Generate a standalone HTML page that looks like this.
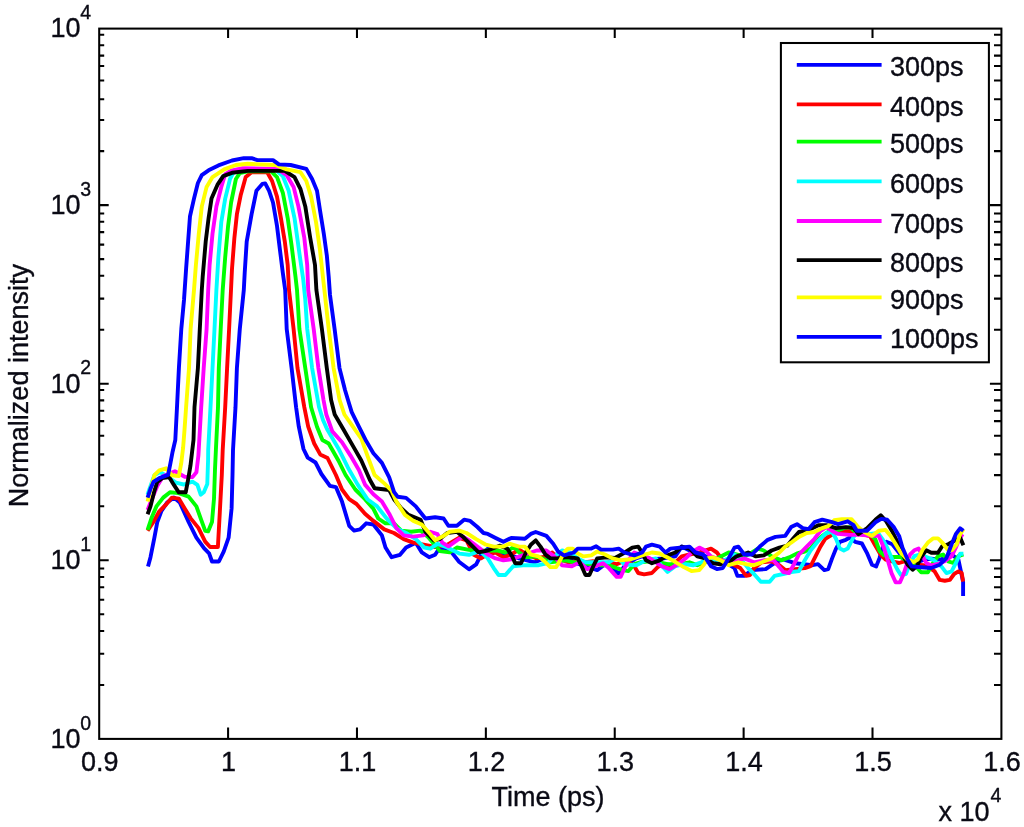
<!DOCTYPE html>
<html lang="en"><head><meta charset="utf-8"><title>Normalized intensity vs Time</title>
<style>html,body{margin:0;padding:0;background:#fff}body{width:1024px;height:827px;overflow:hidden}svg{display:block}text{font-family:"Liberation Sans",Arial,Helvetica,sans-serif;fill:#0a0a14;stroke:#0a0a14;stroke-width:0.35px}</style>
</head><body>
<svg width="1024" height="827" viewBox="0 0 1024 827">
<rect x="0" y="0" width="1024" height="827" fill="#ffffff"/>
<g fill="none" stroke-width="3.90" stroke-linejoin="round" stroke-linecap="butt">
<polyline stroke="#0000ff" points="148.0,566.6 150.5,557.2 154.4,537.7 157.3,522.0 161.3,511.3 167.1,502.5 173.9,497.6 179.8,502.5 188.6,522.0 196.4,537.7 204.2,548.4 209.1,553.3 212.0,561.5 218.9,561.5 223.8,551.3 228.6,537.7 231.6,508.4 232.5,475.2 233.0,450.0 235.5,407.2 236.9,368.1 239.8,329.0 243.8,290.0 244.7,272.8 246.7,241.6 251.6,214.2 256.4,190.8 262.3,183.9 265.2,183.4 269.1,190.8 273.0,202.5 277.0,225.9 279.9,249.4 282.8,272.8 285.2,290.0 286.7,329.0 291.6,368.1 296.1,407.2 298.8,426.7 303.5,449.0 307.7,457.6 315.5,462.5 321.4,474.0 329.9,485.9 335.9,487.1 342.0,501.6 349.2,525.8 354.1,530.6 360.1,529.4 366.2,523.3 373.4,524.5 381.9,535.4 385.5,547.5 391.6,557.2 400.0,554.8 406.1,547.5 415.8,542.7 421.8,552.4 429.1,557.2 435.1,554.8 439.9,547.5 449.6,549.9 459.3,562.0 469.0,569.3 476.2,564.4 481.0,554.8 487.8,548.6 499.5,552.5 509.0,554.5 519.0,558.4 534.7,562.3 544.5,558.4 554.0,554.5 565.9,556.4 573.8,562.3 585.5,566.2 597.2,570.1 605.0,564.2 612.8,568.1 618.7,574.0 624.5,566.2 636.0,558.4 642.1,556.4 651.9,559.3 663.6,558.4 675.3,556.4 681.7,546.6 689.5,550.5 697.0,554.5 705.0,556.0 715.0,560.0 725.0,562.0 734.5,568.1 737.4,575.9 744.2,575.9 752.0,570.1 765.7,569.1 775.5,562.3 783.3,559.3 795.0,563.2 812.6,565.2 818.0,564.2 824.3,570.1 828.2,569.1 832.1,558.4 836.0,548.6 839.9,541.8 845.8,539.8 850.0,537.6 855.1,541.8 861.9,543.5 866.9,552.8 872.0,564.7 876.2,566.4 879.6,557.9 883.0,546.0 886.4,541.8 892.3,544.3 899.1,552.8 906.0,562.0 915.0,563.0 924.5,559.6 931.3,558.7 941.0,559.6 951.6,554.5 958.4,559.6 960.9,571.4 963.1,581.6 963.1,596.0"/>
<polyline stroke="#ff0000" points="147.6,530.8 153.4,522.0 159.3,511.3 166.1,504.5 172.0,497.6 178.8,498.6 184.7,508.4 190.5,518.1 198.4,527.9 205.2,541.6 210.1,547.0 217.9,547.0 219.8,512.3 221.8,475.2 222.7,450.0 225.2,407.2 227.1,368.1 229.1,329.0 231.0,290.0 232.0,268.9 234.4,237.7 236.9,214.2 240.8,194.7 245.7,177.1 251.6,172.2 267.2,172.2 272.1,181.0 277.0,196.6 280.9,218.1 284.8,241.6 287.7,265.0 289.0,290.0 293.6,329.0 297.5,368.1 304.3,407.2 308.2,426.7 314.2,443.5 320.2,454.4 327.5,458.0 335.9,475.0 342.0,489.5 349.2,499.2 356.5,504.0 365.0,513.7 373.4,520.9 384.3,529.4 394.0,533.0 403.7,539.1 413.3,542.7 425.0,545.0 435.0,547.0 447.0,545.0 459.3,537.8 466.5,540.3 473.8,554.8 481.0,558.4 487.0,554.5 495.6,552.5 503.4,557.4 511.0,554.5 519.1,549.6 526.9,554.5 536.6,558.4 546.0,556.4 552.3,552.5 558.0,558.4 567.9,562.3 577.7,561.3 585.5,562.3 593.3,561.3 601.0,564.2 608.9,562.3 616.7,564.2 626.5,560.3 634.3,566.2 638.2,573.0 644.1,574.4 651.9,573.0 657.7,567.1 663.6,564.2 671.4,565.2 676.0,562.0 681.7,556.4 689.5,554.5 699.0,552.5 711.0,548.6 716.9,552.5 722.7,560.3 732.5,564.2 740.3,568.1 746.2,575.9 750.0,575.0 754.0,568.1 761.8,562.3 771.6,561.3 779.4,565.2 785.2,570.1 795.0,569.1 804.8,568.1 810.6,566.2 815.5,556.4 820.4,546.6 825.3,538.8 830.2,535.9 838.0,531.0 845.8,531.0 853.6,532.0 861.4,534.0 870.0,536.0 875.0,545.0 880.5,554.5 885.6,559.6 892.0,561.3 899.1,563.0 904.2,561.3 917.7,564.7 926.2,565.5 934.7,571.4 939.7,579.9 944.8,580.7 949.9,579.9 954.1,574.0 958.4,571.4 961.7,573.1 963.1,581.6"/>
<polyline stroke="#00ff00" points="147.6,529.8 151.5,518.1 156.4,506.4 163.2,497.6 170.0,492.3 178.8,493.1 188.6,496.6 196.4,506.4 201.3,520.1 205.2,530.8 208.1,531.4 212.0,522.0 214.0,498.6 215.0,469.3 215.9,449.8 218.0,407.2 218.8,368.1 220.7,329.0 222.7,290.0 225.2,257.2 228.1,225.9 231.1,202.5 235.9,179.0 239.8,173.2 247.7,171.3 271.1,171.3 277.0,177.1 282.8,192.7 287.7,218.1 291.6,245.5 295.5,276.7 297.0,290.0 299.4,329.0 305.3,368.1 311.1,407.2 317.0,426.7 322.4,440.0 328.7,443.5 338.4,460.5 345.6,475.0 355.3,489.5 365.0,499.2 373.4,508.8 378.3,518.5 385.5,523.3 394.0,523.3 401.2,530.6 410.9,531.8 420.6,530.6 428.0,537.0 435.1,545.1 439.9,551.1 449.6,552.4 456.9,547.5 469.0,549.9 478.6,551.0 487.8,550.5 497.6,550.5 505.4,552.5 514.2,546.6 519.1,552.5 526.9,557.4 534.7,556.4 542.5,558.4 550.3,562.3 558.1,561.3 565.9,560.3 573.8,562.3 583.5,563.2 591.3,564.2 601.1,565.2 608.9,565.2 616.7,568.1 622.6,570.1 628.4,571.1 634.3,564.2 640.2,562.3 649.9,561.3 659.7,562.3 667.5,564.2 675.3,564.2 679.8,564.2 689.5,562.3 697.3,565.2 705.2,562.3 713.0,560.3 720.8,556.4 728.6,552.5 736.4,554.5 744.2,556.4 752.0,552.5 757.9,548.6 763.8,550.5 771.6,556.4 781.3,560.3 789.1,557.4 797.0,553.5 804.8,551.5 810.6,548.6 816.5,540.8 822.3,535.9 828.2,532.0 836.0,531.0 843.8,528.1 849.7,527.1 855.5,532.0 862.0,533.0 870.0,534.0 875.4,539.3 879.6,551.1 883.9,555.3 892.3,557.0 900.8,557.0 907.6,561.3 914.3,564.7 921.1,572.3 927.9,572.3 933.0,563.0 938.0,556.2 943.1,554.5 948.2,561.3 953.3,563.0 958.4,556.2 963.4,554.5"/>
<polyline stroke="#00ffff" points="147.6,494.7 149.5,488.8 154.4,475.2 160.0,472.0 168.0,477.0 175.9,482.6 183.7,484.5 192.5,481.6 197.4,484.9 200.7,494.7 203.8,492.3 207.3,483.9 208.1,459.5 208.2,450.0 210.5,407.2 212.5,368.1 214.5,329.0 216.4,290.0 218.4,257.2 221.3,222.0 225.2,198.6 230.0,179.0 234.0,171.3 247.7,168.9 275.0,169.3 282.8,176.1 288.7,190.8 294.5,218.1 299.4,253.3 303.3,280.0 305.3,300.0 307.2,329.0 312.1,368.1 319.0,407.0 323.0,420.0 327.0,429.0 338.4,448.4 348.0,467.7 357.7,484.6 367.4,499.2 377.1,506.4 386.7,518.5 396.4,528.2 406.1,533.0 415.8,539.1 424.2,547.5 430.3,548.7 437.5,543.9 447.2,547.5 459.3,553.6 469.0,554.8 480.0,551.0 487.8,558.4 493.7,568.1 498.6,575.0 505.4,575.0 513.2,566.2 523.0,565.2 538.6,565.2 548.0,563.0 555.0,556.0 562.0,550.5 569.8,552.5 577.7,558.4 585.5,562.3 597.2,562.3 608.9,562.3 616.7,557.4 624.5,564.2 636.3,565.2 646.0,560.3 655.8,558.4 661.0,565.0 667.5,572.0 675.3,566.2 680.0,565.0 685.6,564.2 693.4,565.2 701.3,562.3 709.1,558.4 718.8,562.3 728.6,558.4 734.5,554.5 740.3,558.4 748.1,568.1 754.0,574.0 760.8,581.8 769.6,581.8 774.5,575.9 783.3,574.0 791.1,572.0 798.9,571.1 804.8,560.3 810.6,550.5 818.4,540.8 826.3,533.0 832.1,532.0 836.0,538.8 839.9,548.6 843.8,550.5 847.7,548.6 851.6,540.8 855.5,533.9 863.4,533.9 870.0,533.9 878.0,533.0 883.0,540.0 887.2,547.7 892.3,559.6 897.4,569.7 900.8,574.8 905.9,574.0 909.0,566.0 914.3,556.2 919.4,554.5 924.5,556.2 933.0,559.6 941.4,566.4 946.5,573.1 951.6,571.4 956.7,561.3 960.1,553.7 963.4,553.7"/>
<polyline stroke="#ff00ff" points="147.6,510.0 151.5,500.0 157.3,485.9 163.2,476.1 174.9,471.3 184.7,476.7 192.5,477.1 196.4,472.2 198.4,455.6 199.0,445.0 201.2,407.2 203.7,368.1 206.6,329.0 208.2,290.0 209.6,265.0 212.5,233.8 216.4,206.4 221.3,186.9 225.2,174.2 232.0,170.3 241.8,168.3 277.0,168.9 286.7,175.2 293.6,186.9 298.4,206.4 304.3,237.7 307.2,265.0 308.2,290.0 313.7,329.0 318.4,368.1 323.5,400.0 326.3,414.5 332.3,431.4 342.0,442.3 350.5,455.6 358.9,470.1 365.0,484.6 373.4,494.3 381.9,501.6 389.2,513.7 396.4,528.2 403.7,535.4 413.3,536.6 423.0,535.4 430.3,531.8 437.5,534.2 442.4,542.7 448.4,546.3 456.9,540.3 462.9,536.6 470.0,541.0 480.0,548.6 487.8,554.5 495.6,558.4 503.4,560.3 511.3,559.3 524.9,554.5 536.6,550.5 546.4,550.5 554.2,556.4 562.0,565.2 571.8,566.2 579.6,562.3 587.4,569.1 595.2,566.2 603.0,563.2 608.9,568.1 616.7,576.9 620.6,576.9 624.5,568.1 628.4,560.3 634.3,552.5 640.2,554.5 649.9,558.4 661.6,566.2 669.5,569.1 677.8,564.2 685.6,558.4 691.5,552.5 699.3,547.6 705.2,550.5 711.0,556.4 720.8,560.3 732.5,562.3 744.2,558.4 754.0,562.3 763.8,560.3 773.5,560.3 779.4,567.1 783.3,572.0 789.1,573.0 794.0,564.2 798.9,554.5 806.7,546.6 814.5,538.8 820.4,531.0 826.3,527.1 832.1,531.0 838.0,533.9 849.7,534.9 860.0,534.9 870.0,535.5 878.8,535.9 883.9,547.7 888.1,561.3 891.5,573.1 895.7,582.4 899.9,582.4 903.3,574.8 906.7,564.7 910.1,554.5 914.3,550.3 918.6,548.6 922.0,554.5 926.2,563.0 931.3,565.5 938.0,564.0 944.8,561.3 951.6,556.2 955.8,547.7 959.2,539.3 962.6,534.2"/>
<polyline stroke="#000000" points="147.6,514.2 150.5,506.4 154.4,490.8 157.3,482.0 162.2,478.1 169.1,477.1 173.9,484.9 178.8,492.3 185.7,492.3 188.2,479.1 190.5,465.4 192.1,451.7 193.5,440.0 194.5,407.2 197.9,368.1 199.8,329.0 201.8,290.0 202.7,276.7 205.7,241.6 208.6,218.1 211.5,198.6 217.4,184.9 223.2,176.1 232.0,172.8 247.7,170.9 284.8,170.9 294.5,177.1 300.4,188.8 305.3,206.4 310.2,237.7 315.0,265.0 316.4,290.0 321.9,329.0 326.8,368.1 331.1,400.0 334.7,414.5 343.2,429.0 352.9,445.9 361.3,460.5 369.8,479.8 374.6,488.3 389.2,490.0 394.0,499.2 401.0,508.0 408.5,514.9 420.6,519.7 425.4,531.8 433.9,540.3 439.9,539.1 447.2,533.0 456.9,531.8 464.1,537.8 471.4,545.1 478.6,552.4 487.8,550.5 499.5,545.7 507.3,548.6 512.2,556.4 515.2,563.2 521.0,563.2 525.9,552.5 530.8,544.7 535.7,540.4 540.5,546.6 545.4,554.5 550.3,558.4 558.1,558.4 567.0,557.0 577.7,558.4 581.6,566.2 585.5,575.0 589.4,575.0 593.3,566.2 597.2,558.4 607.0,557.4 615.0,558.0 624.0,553.0 632.3,547.6 638.2,546.6 642.1,552.5 646.0,560.3 651.9,563.2 659.7,560.3 667.5,555.4 675.3,552.5 681.7,546.6 689.5,548.6 697.3,556.4 705.2,558.4 713.0,563.2 720.8,564.2 728.6,562.3 736.4,556.4 742.3,554.5 748.1,552.5 755.9,556.4 763.8,555.4 771.6,550.5 779.4,547.6 787.2,545.7 793.0,538.8 798.9,532.0 804.8,531.0 810.6,529.1 818.4,525.2 826.3,525.2 836.0,528.1 845.8,527.1 853.6,528.1 858.5,534.2 866.9,528.3 875.4,519.8 880.8,515.2 886.0,521.0 892.0,531.0 898.0,543.0 903.0,555.0 907.6,564.7 912.6,569.7 917.0,566.0 921.0,557.0 926.2,550.3 931.3,552.8 938.0,552.8 942.3,546.0 948.2,544.3 954.0,541.0 960.1,537.6 963.4,545.2"/>
<polyline stroke="#ffff00" points="147.6,501.5 150.5,490.0 154.4,475.2 159.3,470.3 166.1,468.3 172.0,475.2 178.8,476.1 181.2,463.4 183.1,447.8 184.5,430.0 186.1,407.2 189.0,368.1 190.6,329.0 194.0,290.0 195.9,265.0 198.8,233.8 201.8,206.4 206.6,186.9 212.5,177.1 224.2,169.3 235.9,165.0 247.7,163.8 275.0,165.0 286.7,169.3 300.4,172.2 306.3,181.0 311.1,196.6 316.0,222.0 319.9,249.4 322.9,276.7 324.4,290.0 328.7,329.0 333.6,368.1 339.6,400.0 344.4,414.5 352.9,426.6 361.3,438.7 367.4,455.6 374.6,475.0 384.3,483.4 391.6,490.7 396.4,501.6 404.9,514.9 413.3,520.9 421.8,524.5 430.3,534.2 435.1,540.3 442.4,536.6 449.6,531.8 459.3,530.6 466.5,533.0 476.2,539.1 485.9,544.7 493.7,546.6 503.4,546.6 509.3,543.7 519.1,546.6 524.9,546.6 530.8,554.5 538.6,556.4 544.5,561.3 550.3,567.1 556.2,567.1 560.1,560.3 564.0,552.5 567.9,548.6 572.8,548.6 577.7,553.5 583.5,556.4 591.3,555.4 597.2,551.5 605.0,554.5 612.8,558.4 620.6,560.3 630.4,559.3 642.0,555.4 651.9,552.5 659.7,553.5 667.5,557.4 675.9,562.3 683.7,567.1 691.5,571.1 699.3,570.1 704.2,564.2 707.1,558.4 713.0,557.4 720.8,560.3 728.6,565.2 738.4,562.3 746.2,564.2 754.0,565.2 761.8,562.3 771.6,558.4 779.4,552.5 785.2,546.6 791.1,542.7 798.9,536.9 806.7,533.0 814.5,532.0 822.3,528.1 828.2,526.1 834.1,520.3 841.9,519.3 851.6,519.3 858.5,527.4 865.2,532.5 872.0,535.9 878.8,530.8 885.6,529.9 890.6,535.9 895.7,544.3 900.8,552.8 907.0,559.0 913.5,562.1 917.7,559.6 922.8,549.4 927.9,542.6 933.0,538.4 938.0,538.4 943.1,543.5 947.4,549.4 952.0,550.0 956.7,544.3 960.1,534.2 963.4,529.1"/>
<polyline stroke="#0000ff" points="147.6,497.6 150.5,488.8 153.4,482.0 159.3,478.1 168.1,474.8 170.4,463.4 172.6,451.7 175.3,440.0 177.0,407.2 178.9,368.1 181.3,329.0 184.0,300.0 186.1,268.9 188.1,241.6 190.0,216.2 194.0,198.6 197.9,183.0 201.8,175.2 208.6,170.3 218.4,165.4 232.0,160.5 243.8,158.2 251.6,158.2 257.4,160.1 273.0,160.1 278.9,164.4 290.6,165.0 306.3,168.9 312.1,179.0 317.0,190.8 320.0,210.3 323.8,233.8 326.8,255.2 328.7,276.7 330.0,295.0 334.6,329.0 339.5,368.1 345.0,390.0 348.0,400.0 351.7,412.1 358.9,426.6 366.2,441.1 373.4,453.2 381.9,462.9 389.2,477.4 394.0,491.9 397.6,496.7 406.1,497.9 415.8,506.4 425.4,518.5 435.1,517.3 443.6,518.5 448.4,525.8 456.9,525.8 464.1,519.7 470.2,520.9 477.4,527.0 483.5,533.0 487.8,533.9 495.6,537.9 503.4,541.8 511.3,537.9 524.9,538.8 530.8,533.9 535.7,532.0 546.4,535.9 553.2,543.7 558.1,551.5 564.0,555.4 573.8,552.5 577.7,548.6 591.3,548.6 596.2,546.3 601.1,549.6 612.8,549.6 618.7,548.6 624.5,552.5 634.3,555.4 642.1,552.5 646.0,546.6 651.9,544.7 659.7,546.6 665.5,552.5 670.4,548.6 679.8,547.6 689.5,546.6 695.4,552.5 703.2,554.5 711.0,566.2 716.9,569.1 722.7,568.1 728.6,558.4 734.5,547.6 738.4,546.6 744.2,554.5 752.0,554.5 759.8,546.6 767.7,539.8 775.5,536.9 785.2,535.9 791.1,527.1 797.0,524.2 802.8,528.1 808.7,529.1 814.5,522.2 822.3,519.7 832.1,522.2 838.0,524.2 847.7,521.3 853.6,525.2 856.8,530.8 866.9,530.8 875.4,522.3 881.3,518.9 887.2,519.8 894.0,527.4 899.1,535.9 902.5,547.7 907.6,559.6 911.8,566.4 921.1,567.2 931.3,568.0 939.7,564.7 946.5,557.9 951.6,544.3 955.8,534.2 960.1,528.3 963.4,530.8"/>
</g>
<g stroke="#000" stroke-width="2.05" fill="none">
<rect x="99.20" y="28.60" width="902.20" height="710.30"/>
<path d="M228.09 738.90V727.60M228.09 28.60V38.00M356.97 738.90V727.60M356.97 28.60V38.00M485.86 738.90V727.60M485.86 28.60V38.00M614.74 738.90V727.60M614.74 28.60V38.00M743.63 738.90V727.60M743.63 28.60V38.00M872.51 738.90V727.60M872.51 28.60V38.00M99.20 684.90H104.20M1001.40 684.90H994.00M99.20 653.75H104.20M1001.40 653.75H994.00M99.20 630.90H104.20M1001.40 630.90H994.00M99.20 614.29H104.20M1001.40 614.29H994.00M99.20 599.75H104.20M1001.40 599.75H994.00M99.20 587.29H104.20M1001.40 587.29H994.00M99.20 576.90H104.20M1001.40 576.90H994.00M99.20 568.59H104.20M1001.40 568.59H994.00M99.20 560.29H108.70M1001.40 560.29H989.90M99.20 506.29H104.20M1001.40 506.29H994.00M99.20 475.13H104.20M1001.40 475.13H994.00M99.20 454.36H104.20M1001.40 454.36H994.00M99.20 435.67H104.20M1001.40 435.67H994.00M99.20 421.13H104.20M1001.40 421.13H994.00M99.20 410.75H104.20M1001.40 410.75H994.00M99.20 400.37H104.20M1001.40 400.37H994.00M99.20 389.98H104.20M1001.40 389.98H994.00M99.20 383.75H108.70M1001.40 383.75H989.90M99.20 329.75H104.20M1001.40 329.75H994.00M99.20 298.60H104.20M1001.40 298.60H994.00M99.20 275.75H104.20M1001.40 275.75H994.00M99.20 259.14H104.20M1001.40 259.14H994.00M99.20 244.60H104.20M1001.40 244.60H994.00M99.20 232.14H104.20M1001.40 232.14H994.00M99.20 221.75H104.20M1001.40 221.75H994.00M99.20 213.44H104.20M1001.40 213.44H994.00M99.20 205.14H108.70M1001.40 205.14H989.90M99.20 151.14H104.20M1001.40 151.14H994.00M99.20 119.98H104.20M1001.40 119.98H994.00M99.20 99.21H104.20M1001.40 99.21H994.00M99.20 80.52H104.20M1001.40 80.52H994.00M99.20 65.98H104.20M1001.40 65.98H994.00M99.20 55.60H104.20M1001.40 55.60H994.00M99.20 45.22H104.20M1001.40 45.22H994.00M99.20 34.83H104.20M1001.40 34.83H994.00"/>
</g>
<g font-size="27" text-anchor="middle">
<text x="99.7" y="771">0.9</text>
<text x="228.6" y="771">1</text>
<text x="357.5" y="771">1.1</text>
<text x="486.4" y="771">1.2</text>
<text x="615.2" y="771">1.3</text>
<text x="744.1" y="771">1.4</text>
<text x="873.0" y="771">1.5</text>
<text x="1001.9" y="771">1.6</text>
</g>
<text x="50.5" y="747.7" font-size="27">10</text>
<text x="80.2" y="729.5" font-size="19.5">0</text>
<text x="50.5" y="569.1" font-size="27">10</text>
<text x="80.2" y="550.9" font-size="19.5">1</text>
<text x="50.5" y="392.6" font-size="27">10</text>
<text x="80.2" y="374.4" font-size="19.5">2</text>
<text x="50.5" y="213.9" font-size="27">10</text>
<text x="80.2" y="195.7" font-size="19.5">3</text>
<text x="50.5" y="37.4" font-size="27">10</text>
<text x="80.2" y="19.2" font-size="19.5">4</text>
<text x="938.5" y="820.5" font-size="27">x 10</text>
<text x="990.5" y="802" font-size="19.5">4</text>
<text x="548" y="805.7" font-size="27" text-anchor="middle">Time (ps)</text>
<text transform="translate(27.5,385.6) rotate(-90)" font-size="27" text-anchor="middle">Normalized intensity</text>
<rect x="780.9" y="43.0" width="208.0" height="319.3" fill="#fff" stroke="#000" stroke-width="2.05"/>
<line x1="796.8" x2="881.6" y1="64.9" y2="64.9" stroke="#0000ff" stroke-width="3.8"/>
<text x="890" y="76.4" font-size="27">300ps</text>
<line x1="796.8" x2="881.6" y1="104.3" y2="104.3" stroke="#ff0000" stroke-width="3.8"/>
<text x="890" y="115.8" font-size="27">400ps</text>
<line x1="796.8" x2="881.6" y1="141.6" y2="141.6" stroke="#00ff00" stroke-width="3.8"/>
<text x="890" y="153.1" font-size="27">500ps</text>
<line x1="796.8" x2="881.6" y1="181.3" y2="181.3" stroke="#00ffff" stroke-width="3.8"/>
<text x="890" y="192.8" font-size="27">600ps</text>
<line x1="796.8" x2="881.6" y1="221.0" y2="221.0" stroke="#ff00ff" stroke-width="3.8"/>
<text x="890" y="232.5" font-size="27">700ps</text>
<line x1="796.8" x2="881.6" y1="260.2" y2="260.2" stroke="#000000" stroke-width="3.8"/>
<text x="890" y="271.7" font-size="27">800ps</text>
<line x1="796.8" x2="881.6" y1="297.4" y2="297.4" stroke="#ffff00" stroke-width="3.8"/>
<text x="890" y="308.9" font-size="27">900ps</text>
<line x1="796.8" x2="881.6" y1="336.9" y2="336.9" stroke="#0000ff" stroke-width="3.8"/>
<text x="890" y="348.4" font-size="27">1000ps</text>
</svg>
</body></html>
